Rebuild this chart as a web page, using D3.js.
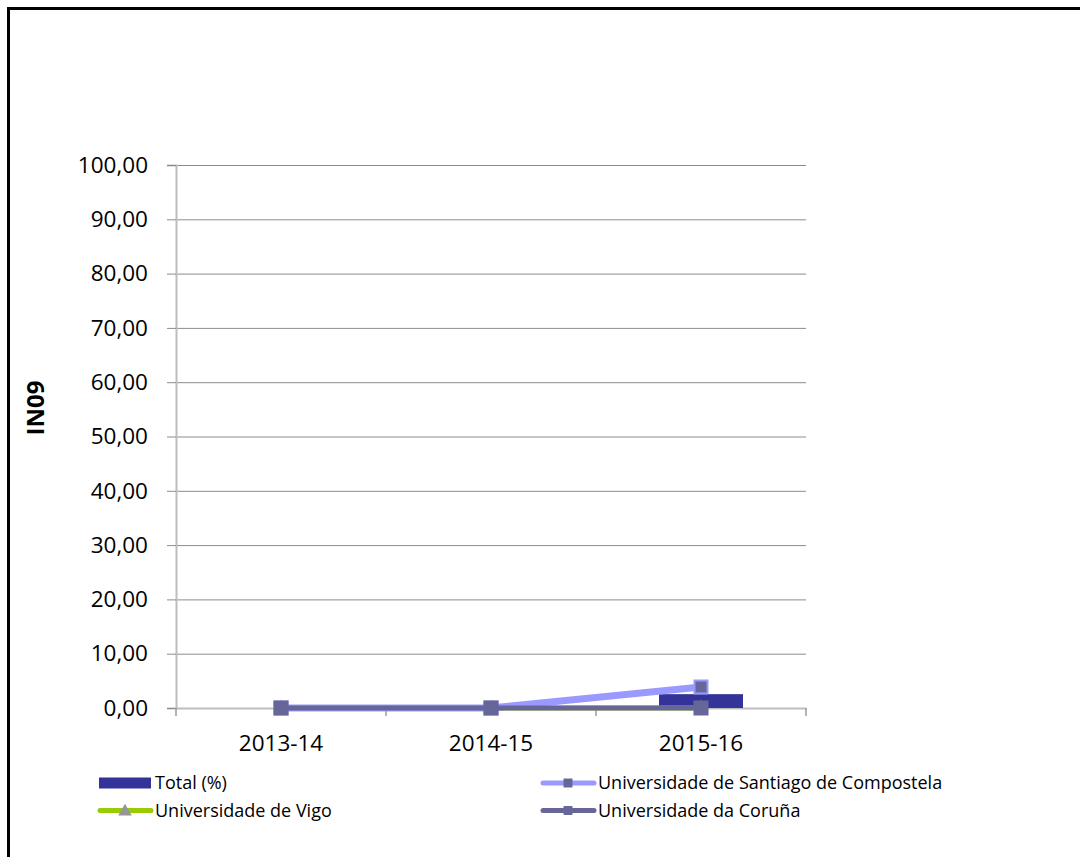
<!DOCTYPE html>
<html>
<head>
<meta charset="utf-8">
<script src="https://cdn.jsdelivr.net/npm/d3@7"></script>
<style>
    body { margin: 0; background: #fff; }
    svg text { font-family: "Open Sans", sans-serif; fill: #000; }
</style>
</head>
<body>
<svg id="chart" width="1080" height="857"></svg>
<script>
// chart values
var categories = ['2013-14', '2014-15', '2015-16'];
var totalPct = [0, 0, 2.55];
var santiago = [0, 0, 3.85];
var vigo = [0, 0, 0];
var coruna = [0, 0, 0];
var yTicks = [0, 10, 20, 30, 40, 50, 60, 70, 80, 90, 100];

var svg = d3.select('#chart');

// outer frame (right and bottom edges fall outside the picture)
svg.append('rect')
    .attr('x', 8.5).attr('y', 8.5)
    .attr('width', 1300).attr('height', 1100)
    .attr('fill', 'none').attr('stroke', '#000').attr('stroke-width', 3);

var x = d3.scaleBand().domain(categories).range([176, 806]);
var y = d3.scaleLinear().domain([0, 100]).range([708, 165]);
var cx = function (c) { return x(c) + x.bandwidth() / 2; };

// gridlines
svg.append('g').selectAll('line')
    .data(yTicks.filter(function (d) { return d > 0; }))
    .enter().append('line')
    .attr('x1', 176).attr('x2', 806)
    .attr('y1', function (d) { return y(d) + 0.5; })
    .attr('y2', function (d) { return y(d) + 0.5; })
    .attr('stroke', '#8c8c8c').attr('stroke-width', 1);

// y axis
var yAxis = svg.append('g')
    .attr('transform', 'translate(176,0)')
    .call(d3.axisLeft(y).tickValues(yTicks).tickSize(9).tickPadding(19)
        .tickFormat(function (d) { return d.toFixed(2).replace('.', ','); }));
yAxis.select('.domain').attr('stroke', '#bdbdbd').attr('stroke-width', 2);
yAxis.selectAll('.tick line').attr('stroke', '#8c8c8c');
yAxis.selectAll('.tick text').style('font-size', '22.5px');

// x axis: labels at band centres, ticks at band edges
var xAxis = svg.append('g')
    .attr('transform', 'translate(0,708)')
    .call(d3.axisBottom(x).tickSize(0).tickPadding(27));
xAxis.select('.domain').attr('stroke', '#bdbdbd').attr('stroke-width', 2);
xAxis.selectAll('.tick text').style('font-size', '22.5px');
xAxis.selectAll('.edge')
    .data(categories.map(function (c) { return x(c); }).concat([x.range()[1]]))
    .enter().append('line')
    .attr('class', 'edge')
    .attr('x1', function (d) { return d; }).attr('x2', function (d) { return d; })
    .attr('y1', 0).attr('y2', 8)
    .attr('stroke', '#9a9a9a').attr('stroke-width', 1.5);

// Total (%) bars
svg.append('g').selectAll('rect')
    .data(totalPct)
    .enter().append('rect')
    .attr('x', function (d, i) { return x(categories[i]) + x.bandwidth() * 0.3; })
    .attr('width', x.bandwidth() * 0.4)
    .attr('y', function (d) { return y(d); })
    .attr('height', function (d) { return y(0) - y(d); })
    .attr('fill', '#333399');

var line = d3.line()
    .x(function (d, i) { return cx(categories[i]); })
    .y(function (d) { return y(d); });

function drawSeries(values, color, width, marker) {
    var g = svg.append('g');
    g.append('path')
        .datum(values)
        .attr('d', line)
        .attr('fill', 'none')
        .attr('stroke', color)
        .attr('stroke-width', width)
        .attr('stroke-linejoin', 'round');
    g.selectAll('path.m')
        .data(values)
        .enter().append('path')
        .attr('class', 'm')
        .attr('transform', function (d, i) {
            return 'translate(' + cx(categories[i]) + ',' + y(d) + ')';
        })
        .attr('d', d3.symbol().type(marker.type).size(marker.size))
        .attr('fill', marker.fill)
        .attr('stroke', marker.stroke)
        .attr('stroke-width', 2);
}

// Vigo sits at zero and is hidden under the other series
drawSeries(vigo, '#99cc00', 5, { type: d3.symbolTriangle, size: 50, fill: '#969696', stroke: '#969696' });
drawSeries(santiago, '#9999ff', 7, { type: d3.symbolSquare, size: 170, fill: '#666699', stroke: '#9999ff' });
drawSeries(coruna, '#666699', 5, { type: d3.symbolSquare, size: 170, fill: '#666699', stroke: '#666699' });

// legend
var legendItems = [
    { label: 'Total (%)', kind: 'bar', color: '#333399' },
    { label: 'Universidade de Santiago de Compostela', kind: 'line', color: '#9999ff',
        marker: d3.symbolSquare, mfill: '#666699' },
    { label: 'Universidade de Vigo', kind: 'line', color: '#99cc00',
        marker: d3.symbolTriangle, mfill: '#969696' },
    { label: 'Universidade da Coruña', kind: 'line', color: '#666699',
        marker: d3.symbolSquare, mfill: '#666699' }
];

var legend = svg.append('g').selectAll('g')
    .data(legendItems)
    .enter().append('g')
    .attr('transform', function (d, i) {
        return 'translate(' + (i % 2 === 0 ? 97 : 540) + ',' + (783 + Math.floor(i / 2) * 27.5) + ')';
    });

legend.each(function (d) {
    var g = d3.select(this);
    if (d.kind === 'bar') {
        g.append('rect').attr('x', 2).attr('y', -5.5).attr('width', 52).attr('height', 11)
            .attr('fill', d.color);
    } else {
        g.append('line').attr('x1', 3).attr('x2', 54).attr('y1', 0).attr('y2', 0)
            .attr('stroke', d.color).attr('stroke-width', 5).attr('stroke-linecap', 'round');
        g.append('path').attr('transform', 'translate(28,' + (d.marker === d3.symbolTriangle ? 1 : 0) + ')')
            .attr('d', d3.symbol().type(d.marker).size(80))
            .attr('fill', d.mfill);
    }
    g.append('text').attr('x', 58).attr('y', 0).attr('dy', '0.35em')
        .style('font-size', '18px').text(d.label);
});

// y axis title
svg.append('text')
    .attr('transform', 'translate(44,408) rotate(-90)')
    .attr('text-anchor', 'middle')
    .style('font-size', '24px').style('font-weight', 'bold')
    .text('IN09');
</script>
</body>
</html>
